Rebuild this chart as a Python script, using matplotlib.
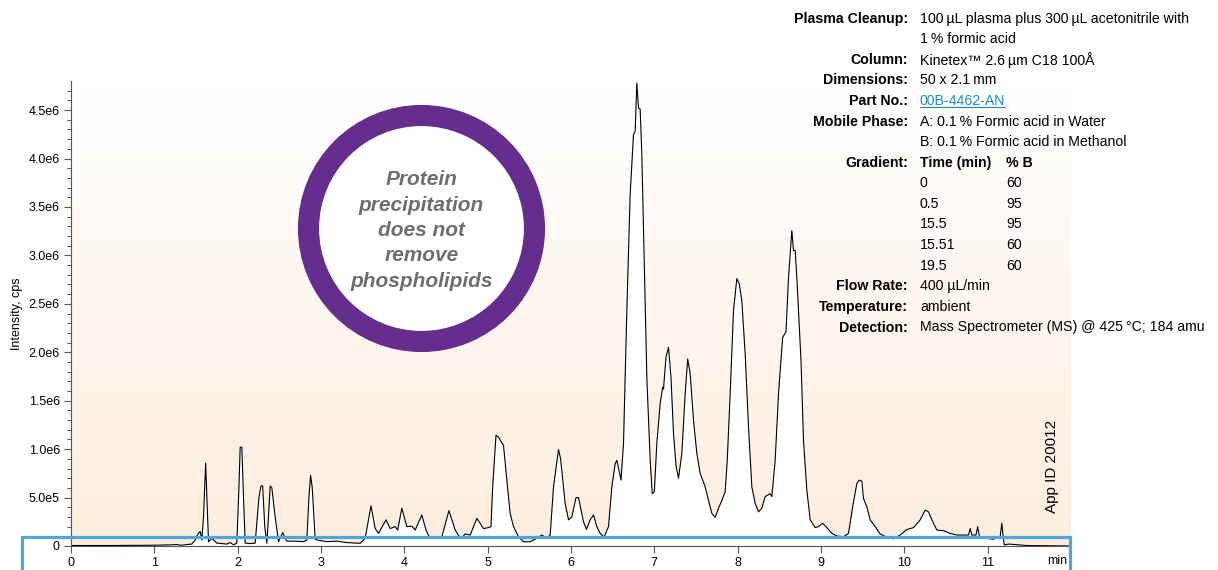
import numpy as np
import matplotlib
matplotlib.use("Agg")
import matplotlib.pyplot as plt
from matplotlib.patches import Ellipse, Rectangle
from matplotlib.lines import Line2D

plt.rcParams['font.family'] = ['Liberation Sans', 'DejaVu Sans']

# chromatogram: time (min), intensity (million cps)
time_min = [
    0.00, 0.50, 1.00, 1.20, 1.27, 1.32, 1.45, 1.49, 1.52, 1.55, 1.57, 1.59, 1.616, 1.635,
    1.65, 1.69, 1.75, 1.87, 1.91, 1.95, 1.99, 2.015, 2.03, 2.05, 2.07, 2.09, 2.15, 2.21,
    2.255, 2.28, 2.30, 2.325, 2.35, 2.37, 2.39, 2.41, 2.45, 2.49, 2.54, 2.59, 2.67, 2.79,
    2.83, 2.855, 2.875, 2.895, 2.93, 2.96, 3.07, 3.19, 3.31, 3.47, 3.53, 3.60, 3.65, 3.69,
    3.78, 3.83, 3.89, 3.92, 3.97, 4.03, 4.09, 4.13, 4.21, 4.26, 4.30, 4.39, 4.45, 4.535,
    4.61, 4.66, 4.69, 4.73, 4.79, 4.87, 4.91, 4.95, 5.01, 5.04, 5.06, 5.10, 5.13, 5.155,
    5.19, 5.23, 5.27, 5.31, 5.37, 5.43, 5.51, 5.59, 5.65, 5.71, 5.75, 5.79, 5.85, 5.875,
    5.93, 5.97, 6.01, 6.06, 6.09, 6.15, 6.185, 6.23, 6.27, 6.31, 6.35, 6.395, 6.45, 6.49,
    6.53, 6.55, 6.60, 6.63, 6.67, 6.71, 6.75, 6.77, 6.79, 6.81, 6.83, 6.85, 6.87, 6.91,
    6.95, 6.975, 7.00, 7.03, 7.07, 7.10, 7.11, 7.14, 7.17, 7.20, 7.23, 7.26, 7.29, 7.33,
    7.37, 7.40, 7.43, 7.47, 7.51, 7.55, 7.61, 7.65, 7.69, 7.73, 7.77, 7.81, 7.85, 7.875,
    7.91, 7.95, 7.99, 8.02, 8.05, 8.09, 8.13, 8.17, 8.21, 8.25, 8.29, 8.33, 8.39, 8.41,
    8.45, 8.49, 8.54, 8.58, 8.61, 8.65, 8.67, 8.69, 8.71, 8.76, 8.79, 8.83, 8.87, 8.93,
    8.97, 9.02, 9.07, 9.13, 9.19, 9.27, 9.33, 9.38, 9.43, 9.46, 9.49, 9.51, 9.55, 9.59,
    9.65, 9.71, 9.79, 9.87, 9.95, 10.03, 10.11, 10.19, 10.25, 10.29, 10.33, 10.39, 10.47,
    10.55, 10.63, 10.73, 10.77, 10.79, 10.81, 10.86, 10.88, 10.90, 10.97, 11.07, 11.15,
    11.17, 11.19, 11.20, 11.25, 11.47, 12.00,
]
intensity_mcps = [
    0.005, 0.005, 0.008, 0.012, 0.015, 0.008, 0.02, 0.06, 0.12, 0.15, 0.06, 0.30, 0.855, 0.40,
    0.044, 0.079, 0.03, 0.02, 0.035, 0.012, 0.03, 0.60, 1.02, 1.02, 0.50, 0.03, 0.025, 0.03,
    0.50, 0.62, 0.62, 0.20, 0.028, 0.30, 0.62, 0.60, 0.30, 0.045, 0.137, 0.05, 0.05, 0.045,
    0.06, 0.50, 0.73, 0.60, 0.07, 0.06, 0.045, 0.05, 0.035, 0.028, 0.08, 0.415, 0.18, 0.13,
    0.27, 0.18, 0.20, 0.165, 0.39, 0.20, 0.205, 0.165, 0.32, 0.165, 0.09, 0.09, 0.095, 0.365,
    0.165, 0.095, 0.085, 0.124, 0.113, 0.285, 0.234, 0.18, 0.19, 0.20, 0.61, 1.143, 1.125, 1.085,
    1.04, 0.68, 0.337, 0.20, 0.095, 0.044, 0.044, 0.08, 0.113, 0.08, 0.113, 0.61, 0.995, 0.90,
    0.44, 0.27, 0.30, 0.50, 0.50, 0.25, 0.17, 0.27, 0.32, 0.20, 0.13, 0.09, 0.20, 0.61,
    0.85, 0.885, 0.68, 1.058, 2.43, 3.63, 4.25, 4.28, 4.78, 4.52, 4.51, 4.04, 3.29, 1.74,
    0.885, 0.54, 0.56, 1.058, 1.47, 1.64, 1.62, 1.95, 2.05, 1.74, 1.16, 0.83, 0.70, 0.955,
    1.57, 1.93, 1.78, 1.30, 0.955, 0.75, 0.61, 0.47, 0.337, 0.295, 0.39, 0.47, 0.56, 0.885,
    1.57, 2.43, 2.76, 2.705, 2.53, 1.985, 1.23, 0.61, 0.44, 0.353, 0.39, 0.51, 0.54, 0.51,
    0.885, 1.57, 2.155, 2.21, 2.77, 3.255, 3.05, 3.05, 2.77, 1.915, 1.09, 0.577, 0.27, 0.19,
    0.20, 0.235, 0.19, 0.13, 0.103, 0.096, 0.13, 0.405, 0.645, 0.68, 0.67, 0.49, 0.405, 0.27,
    0.20, 0.124, 0.09, 0.075, 0.113, 0.17, 0.19, 0.27, 0.37, 0.353, 0.27, 0.165, 0.158,
    0.13, 0.113, 0.113, 0.113, 0.18, 0.113, 0.113, 0.20, 0.10, 0.08, 0.07, 0.096,
    0.235, 0.062, 0.01, 0.02, 0.005, 0.0,
]

x_ticks = list(range(0, 12))
y_ticks = [0, 0.5e6, 1.0e6, 1.5e6, 2.0e6, 2.5e6, 3.0e6, 3.5e6, 4.0e6, 4.5e6]
y_tick_labels = ["0", "5.0e5", "1.0e6", "1.5e6", "2.0e6", "2.5e6", "3.0e6", "3.5e6", "4.0e6", "4.5e6"]

conditions = [
    ("Plasma Cleanup:", "100\u2009µL plasma plus 300\u2009µL acetonitrile with"),
    ("", "1\u2009% formic acid"),
    ("Column:", "Kinetex™ 2.6\u2009µm C18 100Å"),
    ("Dimensions:", "50 x 2.1\u2009mm"),
    ("Part No.:", "00B-4462-AN"),
    ("Mobile Phase:", "A: 0.1\u2009% Formic acid in Water"),
    ("", "B: 0.1\u2009% Formic acid in Methanol"),
    ("Gradient:", None),
]
gradient_time = ["0", "0.5", "15.5", "15.51", "19.5"]
gradient_b = ["60", "95", "95", "60", "60"]
conditions_tail = [
    ("Flow Rate:", "400 µL/min"),
    ("Temperature:", "ambient"),
    ("Detection:", "Mass Spectrometer (MS) @ 425\u2009°C; 184 amu"),
]

W, H = 1218, 570
fig = plt.figure(figsize=(W / 100, H / 100), dpi=100)
ax = fig.add_axes([71 / W, 1 - 546 / H, 1000 / W, (546 - 81) / H])

t = np.array(time_min)
y = np.array(intensity_mcps) * 1e6

# peach gradient behind the trace, white under it
grad = np.linspace(0, 1, 256)[:, None]
bottom = np.array([253, 237, 222]) / 255
top = np.array([255, 255, 255]) / 255
img = bottom + (top - bottom) * grad
img = img[:, None, :].repeat(2, axis=1)
ax.imshow(img, extent=[0, 12, 0, 4.8e6], origin='lower', aspect='auto', zorder=0)
ax.fill_between(t, 0, y, color='white', lw=0, zorder=1)
ax.plot(t, y, color='black', lw=0.8, zorder=2)

ax.set_xlim(0, 12)
ax.set_ylim(0, 4.8e6)
ax.set_facecolor('none')
for s in ['top', 'right']:
    ax.spines[s].set_visible(False)
for s in ['left', 'bottom']:
    ax.spines[s].set_color('#555555')
    ax.spines[s].set_linewidth(0.8)
ax.set_xticks(x_ticks)
ax.set_xticklabels([str(v) for v in x_ticks])
ax.set_yticks(y_ticks)
ax.set_yticklabels(y_tick_labels)
ax.set_yticks(np.arange(0, 4.8e6, 1e5), minor=True)
ax.tick_params(axis='both', which='major', labelsize=9, color='#555555', length=5, width=0.8, pad=3)
ax.tick_params(axis='y', which='minor', color='#555555', length=2.7, width=0.7)
ax.set_ylabel("Intensity, cps", fontsize=9, labelpad=4)

fig.text(1057 / W, 1 - 561 / H, "min", fontsize=9, ha='center', va='center')

# circle callout
cx, cy = 421.5 / W, 1 - 228.5 / H
fig.add_artist(Ellipse((cx, cy), 226 / W, 226 / H, transform=fig.transFigure,
                       facecolor='white', edgecolor='#652d8e', lw=15.2, zorder=5))
fig.text(cx, 1 - 230.5 / H, "Protein\nprecipitation\ndoes not\nremove\nphospholipids",
         ha='center', va='center', fontsize=15, fontweight='bold', fontstyle='italic',
         color='#6d6e71', linespacing=1.43, zorder=6)

# App ID
fig.text(1052 / W, 1 - 466 / H, "App ID 20012", rotation=90, ha='center', va='center', fontsize=11)

# blue box round the baseline
fig.add_artist(Rectangle((22 / W, -0.1), (1070 - 22) / W, 0.1 + (570 - 537) / H,
                         transform=fig.transFigure, fill=False, edgecolor='#4da6dc',
                         lw=2.3, zorder=10, clip_on=False))

# method conditions
fs = 10.2
lab_x, val_x, col2_x = 908 / W, 920 / W, 1006 / W
row = 0
step = 20.6
y0 = 18.5
part_txt = None
for lab, val in conditions:
    yy = 1 - (y0 + row * step) / H
    if lab:
        fig.text(lab_x, yy, lab, ha='right', va='center', fontsize=fs, fontweight='bold')
    if val is None:
        fig.text(val_x, yy, "Time (min)", ha='left', va='center', fontsize=fs, fontweight='bold')
        fig.text(col2_x, yy, "% B", ha='left', va='center', fontsize=fs, fontweight='bold')
    elif lab == "Part No.:":
        part_txt = fig.text(val_x, yy, val, ha='left', va='center', fontsize=fs, color='#1f8ad2')
    else:
        fig.text(val_x, yy, val, ha='left', va='center', fontsize=fs)
    row += 1
for tm, b in zip(gradient_time, gradient_b):
    yy = 1 - (y0 + row * step) / H
    fig.text(val_x, yy, tm, ha='left', va='center', fontsize=fs)
    fig.text(col2_x, yy, b, ha='left', va='center', fontsize=fs)
    row += 1
for lab, val in conditions_tail:
    yy = 1 - (y0 + row * step) / H
    fig.text(lab_x, yy, lab, ha='right', va='center', fontsize=fs, fontweight='bold')
    fig.text(val_x, yy, val, ha='left', va='center', fontsize=fs)
    row += 1

fig.canvas.draw()
bb = part_txt.get_window_extent()
fig.add_artist(Line2D([bb.x0, bb.x1], [bb.y0 + 1, bb.y0 + 1], transform=None,
                      color='#1f8ad2', lw=0.8))

fig.savefig("out.png", dpi=100)
